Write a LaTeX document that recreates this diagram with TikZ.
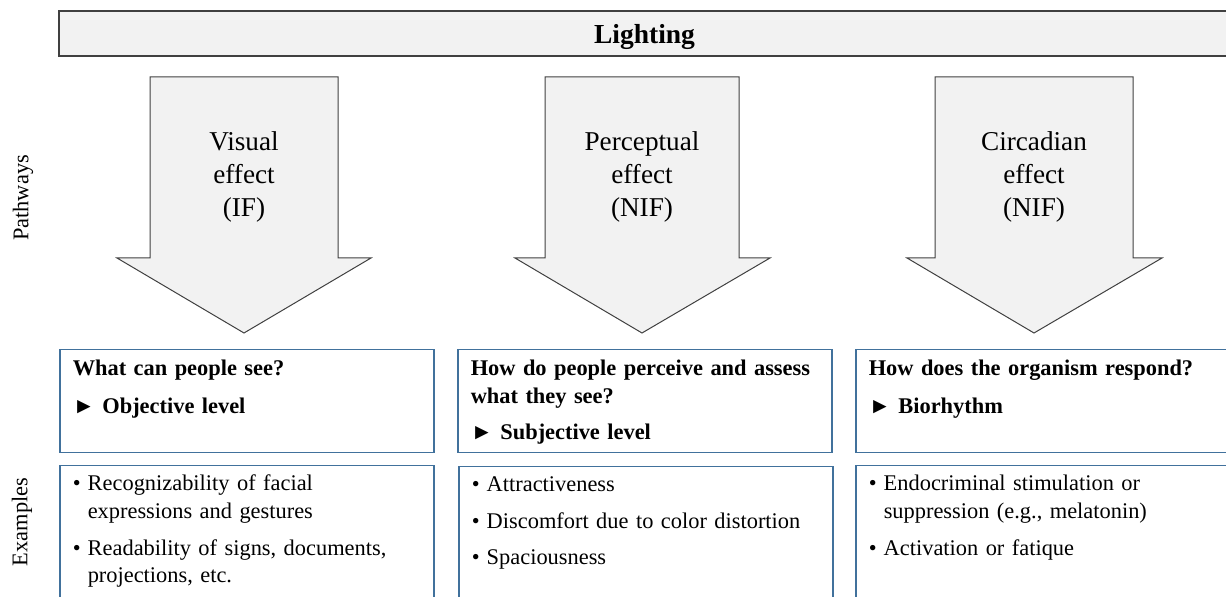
\documentclass[tikz,border=0pt]{standalone}
\usepackage{fontspec}
\setmainfont{Liberation Serif}
\definecolor{panelgray}{HTML}{F2F2F2}
\definecolor{edgegray}{HTML}{404040}
\definecolor{boxblue}{HTML}{41719C}
\newcommand\exbullet{\makebox[7.5pt][l]{•}}
\newcommand\exindent{\hspace*{7.5pt}}

\begin{document}
\begin{tikzpicture}[x=0.5pt,y=-0.5pt,
  titlebar/.style={draw=edgegray,fill=panelgray,line width=0.6pt,minimum width=585.5pt,minimum height=22.5pt,inner sep=0pt,text depth=0pt,font=\fontsize{13.75}{16.5}\selectfont\bfseries},
  flowarrow/.style={draw=edgegray,fill=panelgray,line width=0.5pt},
  arrowtext/.style={align=center,anchor=base,font=\fontsize{13.6}{16.5}\selectfont},
  sidelabel/.style={rotate=90,font=\fontsize{11.2}{13.75}\selectfont},
  qbox/.style={draw=boxblue,line width=0.75pt,anchor=north west,text width=174pt,inner xsep=6.5pt,inner ysep=0pt,text height=13pt,text depth=38.5pt,align=left,font=\fontsize{11.2}{13.75}\selectfont\bfseries},
  exbox/.style={qbox,text height=12.5pt,text depth=60pt,font=\fontsize{11.2}{13.75}\selectfont}]
\useasboundingbox (0,0) rectangle (1226,597);
\node[titlebar] (light) at (644.5,33.5) {Lighting};
\draw[flowarrow] (150,77)--(338,77)--(338,258)--(371,258)--(244,333)--(117,258)--(150,258)--cycle;
\draw[flowarrow] (545,77)--(739,77)--(739,258)--(770,258)--(642,333)--(515,258)--(545,258)--cycle;
\draw[flowarrow] (935,77)--(1133,77)--(1133,258)--(1162,258)--(1034,333)--(907,258)--(935,258)--cycle;
% base anchor sits on the last line
\node[arrowtext] (visual) at (244,217) {Visual\\effect\\(IF)};
\node[arrowtext] (percept) at (642,217) {Perceptual\\effect\\(NIF)};
\node[arrowtext] (circad) at (1034,217) {Circadian\\effect\\(NIF)};
\node[sidelabel] (pathways) at (23,198) {Pathways};
\node[sidelabel] (examples) at (22,522) {Examples};
\node[qbox] (q1) at (59,349) {What can people see?\\[5pt]► Objective level};
\node[qbox] (q2) at (457,349) {How do people perceive and assess\\what they see?\\[4.5pt]► Subjective level};
\node[qbox] (q3) at (855,349) {How does the organism respond?\\[5pt]► Biorhythm};
\node[exbox] (e1) at (59,465) {\exbullet Recognizability of facial\\\exindent expressions and gestures\\[4.75pt]\exbullet Readability of signs, documents,\\\exindent projections, etc.};
\node[exbox] (e2) at (458,466) {\exbullet Attractiveness\\[4.5pt]\exbullet Discomfort due to color distortion\\[4.5pt]\exbullet Spaciousness};
\node[exbox] (e3) at (855,465) {\exbullet Endocriminal stimulation or\\\exindent suppression (e.g., melatonin)\\[4.75pt]\exbullet Activation or fatique};
\end{tikzpicture}
\end{document}
